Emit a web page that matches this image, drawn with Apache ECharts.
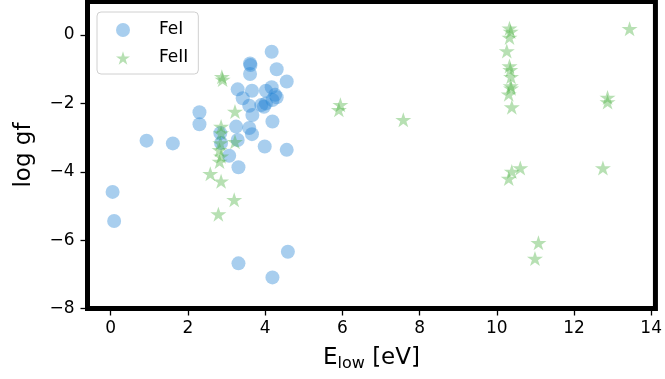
<!DOCTYPE html>
<html>
<head>
<meta charset="utf-8">
<script src="https://cdn.jsdelivr.net/npm/echarts@6/dist/echarts.min.js"></script>
<style>
  html, body { margin: 0; padding: 0; background: #fff; }
  #chart { width: 665px; height: 379px; }
</style>
</head>
<body>
<div id="chart"></div>
<script>
// Fe I lines: lower level energy (eV) and log gf
const feIEnergy = [4.17, 3.61, 3.62, 3.61, 4.30, 4.56, 3.29, 3.66, 4.02, 4.17, 4.26, 4.30,
  3.90, 3.97, 4.02, 4.19, 3.42, 3.59, 3.67, 4.19, 2.30, 2.30, 3.25, 3.59, 3.66, 2.84,
  3.29, 0.93, 1.61, 3.99, 4.56, 3.07, 3.31, 2.86, 0.05, 0.09, 3.31, 4.59, 4.19];
const feILogGf = [-0.49, -0.83, -0.88, -1.14, -1.00, -1.36, -1.59, -1.63, -1.63, -1.53, -1.75, -1.82,
  -2.05, -2.10, -2.00, -1.90, -1.85, -2.07, -2.34, -2.53, -2.26, -2.61, -2.68, -2.72, -2.90, -2.87,
  -3.07, -3.09, -3.17, -3.26, -3.36, -3.53, -3.87, -3.16, -4.59, -5.44, -6.68, -6.34, -7.09];

// Fe II lines
const feIIEnergy = [2.88, 2.90, 3.22, 2.86, 3.22, 2.86, 2.84, 2.82, 2.86, 2.82, 2.58, 2.86,
  3.20, 2.79, 5.95, 5.91, 7.58, 10.33, 10.36, 10.33, 10.26, 10.33, 10.35, 10.37, 10.36,
  10.37, 10.31, 10.39, 13.44, 12.87, 12.87, 10.61, 10.39, 10.31, 12.75, 11.08, 10.99];
const feIILogGf = [-1.22, -1.30, -2.24, -2.68, -3.12, -2.87, -3.16, -3.36, -3.55, -3.70, -4.06, -4.28,
  -4.82, -5.24, -2.04, -2.19, -2.48, 0.20, 0.10, -0.07, -0.47, -0.91, -1.02, -1.22, -1.49,
  -1.56, -1.73, -2.11, 0.18, -1.83, -1.96, -3.89, -3.99, -4.20, -3.89, -6.08, -6.54];

const xTicks = [0, 2, 4, 6, 8, 10, 12, 14];
const yTicks = [-8, -6, -4, -2, 0];

const blue = 'rgba(37, 133, 213, 0.5)';
const green = 'rgba(75, 178, 65, 0.5)';

// five point star like matplotlib's '*' marker
function starPath() {
  const pts = [];
  for (let i = 0; i < 10; i++) {
    const r = i % 2 === 0 ? 1 : 0.382;
    const a = Math.PI / 2 + i * Math.PI / 5;
    pts.push((r * Math.cos(a)).toFixed(4) + ' ' + (-r * Math.sin(a)).toFixed(4));
  }
  return 'path://M' + pts.join(' L') + ' Z';
}
const star = starPath();

const pairs = (xs, ys) => xs.map((x, i) => [x, ys[i]]);
const minus = v => String(v).replace('-', '\u2212');

const chart = echarts.init(document.getElementById('chart'), null, { renderer: 'canvas' });
const font = 'DejaVu Sans';

chart.setOption({
  animation: false,
  textStyle: { fontFamily: font },
  grid: {
    left: 87.5, right: 6.5, top: 1.5, bottom: 70.5,
    show: true, borderColor: '#000', borderWidth: 5, backgroundColor: '#fff'
  },
  legend: {
    left: 97, top: 12,
    orient: 'vertical',
    padding: [9, 10, 7, 19],
    itemGap: 10,
    itemWidth: 14, itemHeight: 14,
    borderColor: '#d0d0d0', borderWidth: 1, borderRadius: 4,
    backgroundColor: 'rgba(255,255,255,0.8)',
    textStyle: { fontFamily: font, fontSize: 17, color: '#000', lineHeight: 18, padding: [0, 0, 0, 24] },
    data: [
      { name: 'FeI', icon: 'circle' },
      { name: 'FeII', icon: star }
    ]
  },
  xAxis: {
    type: 'value',
    min: -0.6, max: 14.11,
    name: '{e|E}{sub|low}{e| [eV]}',
    nameLocation: 'middle',
    nameGap: 36,
    nameTextStyle: {
      rich: {
        e: { fontFamily: font, fontSize: 23, color: '#000' },
        sub: { fontFamily: font, fontSize: 16, color: '#000', padding: [11, 0, 0, 0] }
      }
    },
    splitLine: { show: false },
    axisLine: { show: false, onZero: false },
    axisTick: { show: true, customValues: xTicks, length: 7, lineStyle: { color: '#000', width: 1.3 } },
    axisLabel: { customValues: xTicks, margin: 12, fontSize: 17, color: '#000', fontFamily: font }
  },
  yAxis: {
    type: 'value',
    min: -8, max: 0.98,
    name: 'log gf',
    nameLocation: 'middle',
    nameGap: 52,
    nameTextStyle: { fontFamily: font, fontSize: 23, color: '#000' },
    splitLine: { show: false },
    axisLine: { show: false, onZero: false },
    axisTick: { show: true, customValues: yTicks, length: 7, lineStyle: { color: '#000', width: 1.3 } },
    axisLabel: { customValues: yTicks, margin: 13, fontSize: 17, color: '#000', fontFamily: font, formatter: minus }
  },
  series: [
    {
      name: 'FeI',
      type: 'scatter',
      symbol: 'circle',
      symbolSize: 14,
      itemStyle: { color: blue },
      data: pairs(feIEnergy, feILogGf)
    },
    {
      name: 'FeII',
      type: 'scatter',
      symbol: star,
      symbolSize: [16, 15],
      itemStyle: { color: green },
      data: pairs(feIIEnergy, feIILogGf)
    }
  ]
});
</script>
</body>
</html>
